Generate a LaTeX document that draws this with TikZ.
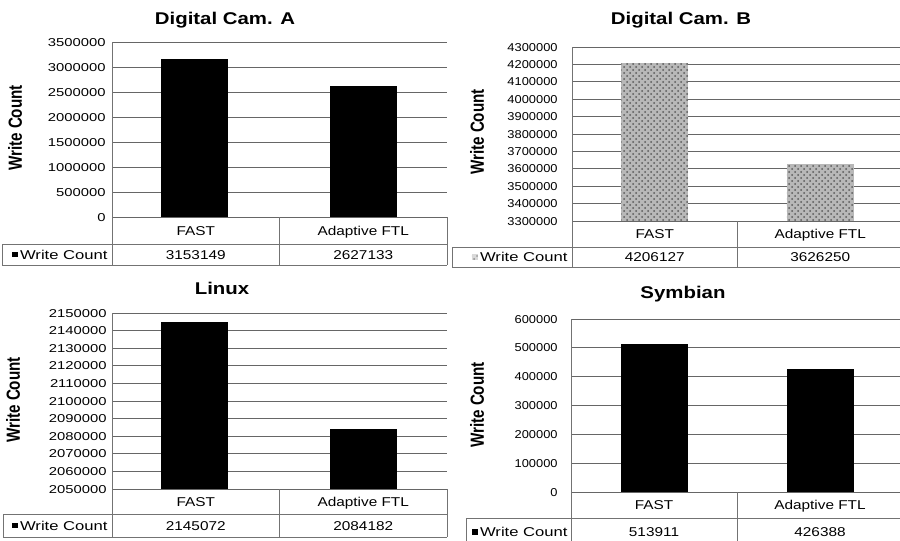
\documentclass[tikz,border=0pt]{standalone}
\usepackage{fontspec}
\setmainfont{Liberation Sans}
\newfontfamily\cellsf[FakeStretch=1.2]{Liberation Sans}
\newfontfamily\legsf[FakeStretch=1.3]{Liberation Sans}
\newfontfamily\tickwide[FakeStretch=1.3]{Liberation Sans}
\newfontfamily\ticknarrow[FakeStretch=1.13]{Liberation Sans}
\newfontfamily\titlesf[FakeStretch=1.2]{Liberation Sans}
\usetikzlibrary{patterns}

\tikzset{
  every node/.style={inner sep=0pt},
  gridline/.style={black!60, line width=0.5pt},
  cell/.style={black!55, line width=0.5pt},
  charttitle/.style={font=\titlesf\bfseries\fontsize{8.5pt}{10pt}\selectfont,
    text height=6.1pt, text depth=0pt},
  axislabel/.style={font=\bfseries\fontsize{7.6pt}{9pt}\selectfont, rotate=90},
  ticklabel/.style={font=\tickwide\fontsize{5.7pt}{6.5pt}\selectfont, anchor=east,
    text height=4.1pt, text depth=0pt},
  ticklabelnarrow/.style={ticklabel, font=\ticknarrow\fontsize{5.7pt}{6.5pt}\selectfont},
  celltext/.style={font=\cellsf\fontsize{6.4pt}{7.5pt}\selectfont,
    text height=4.6pt, text depth=0pt},
  legtext/.style={font=\legsf\fontsize{6.4pt}{7.5pt}\selectfont, anchor=east,
    text height=4.6pt, text depth=0pt},
  solidbar/.style={fill=black},
  dotbar/.style={fill=black!28, postaction={pattern=crosshatch dots, pattern color=black!65}},
  solidkey/.style={fill=black, minimum size=2.9pt, anchor=east},
  dotkey/.style={fill=black!15, minimum size=2.9pt, anchor=east,
    postaction={pattern=crosshatch dots, pattern color=black!45}},
}
\newcommand\ylabtext{\scalebox{1}[1.25]{Write Count}}

\begin{document}
\begin{tikzpicture}[x=0.5pt, y=-0.5pt]
\useasboundingbox (0,0) rectangle (900,541);
\clip (0,0) rectangle (900,541);
\fill[white] (0,0) rectangle (900,541);

% ---------- Digital Cam. A ----------
\node[charttitle] (titleA) at (225,18) {Digital Cam. A};
\node[axislabel] (ylabA) at (15,128) {\ylabtext};
\foreach \lab [count=\i from 0] in {0,500000,1000000,1500000,2000000,2500000,3000000,3500000}{
  \draw[gridline] (112,217-\i*25) -- (447,217-\i*25);
  \node[ticklabel] (tickA\i) at (106,217-\i*25) {\lab};
}
\fill[solidbar] (161.25,217) rectangle (228.25,59.34);
\fill[solidbar] (329.75,217) rectangle (396.75,85.64);
\draw[cell] (112,42) -- (112,265);
\draw[cell] (279.5,217) -- (279.5,265);
\draw[cell] (447,217) -- (447,265);
\draw[cell] (2,244) -- (447,244);
\draw[cell] (2,265) -- (447,265);
\draw[cell] (2,244) -- (2,265);
\node[celltext] (catA1) at (195.75,230.5) {FAST};
\node[celltext] (catA2) at (363.25,230.5) {Adaptive FTL};
\node[legtext] (legA) at (108,254.5) {Write Count};
\node[solidkey] (keyA) at ([xshift=-0.8pt]legA.west) {};
\node[celltext] (valA1) at (195.75,254.5) {3153149};
\node[celltext] (valA2) at (363.25,254.5) {2627133};

% ---------- Digital Cam. B ----------
\node[charttitle] (titleB) at (681,18) {Digital Cam. B};
\node[axislabel] (ylabB) at (477,132) {\ylabtext};
\foreach \lab [count=\i from 0] in {3300000,3400000,3500000,3600000,3700000,3800000,3900000,4000000,4100000,4200000,4300000}{
  \draw[gridline] (572,221-\i*17.4) -- (903,221-\i*17.4);
  \node[ticklabelnarrow] (tickB\i) at (558,221-\i*17.4) {\lab};
}
\path[dotbar] (621.25,221) rectangle (688.25,63.3);
\path[dotbar] (786.75,221) rectangle (853.75,164.2);
\draw[cell] (572,47) -- (572,267);
\draw[cell] (737.5,221) -- (737.5,267);
\draw[cell] (452,247) -- (903,247);
\draw[cell] (452,267) -- (903,267);
\draw[cell] (452,247) -- (452,267);
\node[celltext] (catB1) at (654.75,234) {FAST};
\node[celltext] (catB2) at (820.25,234) {Adaptive FTL};
\node[legtext] (legB) at (568,257) {Write Count};
\node[dotkey] (keyB) at ([xshift=-0.8pt]legB.west) {};
\node[celltext] (valB1) at (654.75,257) {4206127};
\node[celltext] (valB2) at (820.25,257) {3626250};

% ---------- Linux ----------
\node[charttitle] (titleC) at (222,288) {Linux};
\node[axislabel] (ylabC) at (13,400) {\ylabtext};
\foreach \lab [count=\i from 0] in {2050000,2060000,2070000,2080000,2090000,2100000,2110000,2120000,2130000,2140000,2150000}{
  \draw[gridline] (112,489-\i*17.6) -- (447,489-\i*17.6);
  \node[ticklabel] (tickC\i) at (107,489-\i*17.6) {\lab};
}
\fill[solidbar] (161.25,489) rectangle (228.25,321.7);
\fill[solidbar] (329.75,489) rectangle (396.75,428.8);
\draw[cell] (112,313) -- (112,537);
\draw[cell] (279.5,489) -- (279.5,537);
\draw[cell] (447,489) -- (447,537);
\draw[cell] (3,514) -- (447,514);
\draw[cell] (3,537) -- (447,537);
\draw[cell] (3,514) -- (3,537);
\node[celltext] (catC1) at (195.75,501.5) {FAST};
\node[celltext] (catC2) at (363.25,501.5) {Adaptive FTL};
\node[legtext] (legC) at (108,525.5) {Write Count};
\node[solidkey] (keyC) at ([xshift=-0.8pt]legC.west) {};
\node[celltext] (valC1) at (195.75,525.5) {2145072};
\node[celltext] (valC2) at (363.25,525.5) {2084182};

% ---------- Symbian ----------
\node[charttitle] (titleD) at (683,292) {Symbian};
\node[axislabel] (ylabD) at (477,405) {\ylabtext};
\foreach \lab [count=\i from 0] in {0,100000,200000,300000,400000,500000,600000}{
  \draw[gridline] (571,492-\i*28.833) -- (903,492-\i*28.833);
  \node[ticklabelnarrow] (tickD\i) at (558,492-\i*28.833) {\lab};
}
\fill[solidbar] (620.5,492) rectangle (687.5,343.8);
\fill[solidbar] (786.5,492) rectangle (853.5,369.1);
\draw[cell] (571,319) -- (571,544);
\draw[cell] (737,492) -- (737,544);
\draw[cell] (466,518) -- (903,518);
\draw[cell] (466,518) -- (466,544);
\node[celltext] (catD1) at (654,505) {FAST};
\node[celltext] (catD2) at (820,505) {Adaptive FTL};
\node[legtext] (legD) at (568,532) {Write Count};
\node[solidkey] (keyD) at ([xshift=-0.8pt]legD.west) {};
\node[celltext] (valD1) at (654,532) {513911};
\node[celltext] (valD2) at (820,532) {426388};
\end{tikzpicture}
\end{document}
